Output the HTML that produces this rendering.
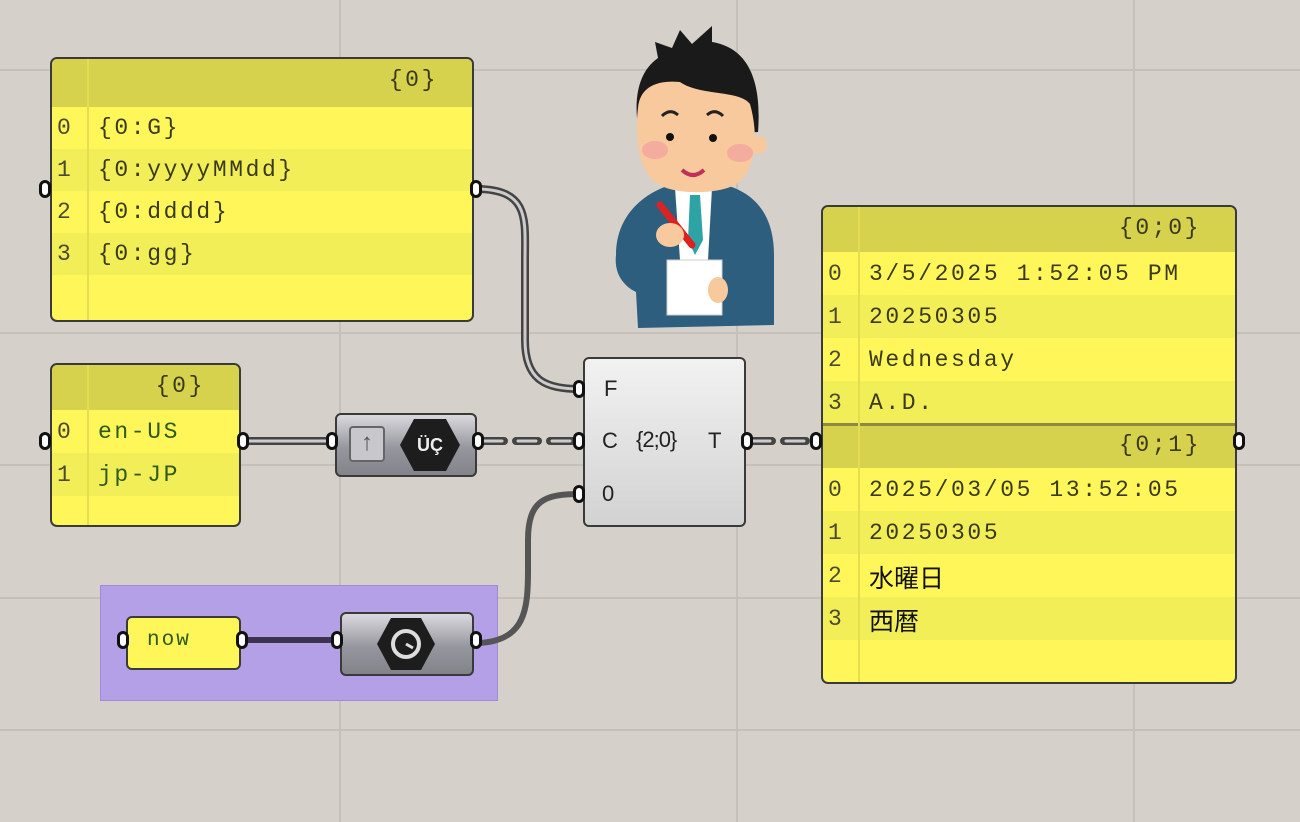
<!DOCTYPE html>
<html><head><meta charset="utf-8"><style>
*{margin:0;padding:0;box-sizing:border-box}
body{width:1300px;height:822px;background:#d5d1ca;position:relative;overflow:hidden;font-family:"Liberation Mono","Noto Sans CJK JP",monospace}
.a{position:absolute}
.hl{position:absolute;left:0;width:1300px;height:2px;background:#c5c1ba}
.vl{position:absolute;top:0;height:822px;width:2px;background:#c5c1ba}
.panel{position:absolute;border:2px solid #3a3a3a;border-radius:7px;background:#fff75a;overflow:hidden}
.row{position:absolute;left:0;right:0;font-size:23px;letter-spacing:2.6px;color:#3a3a1a;white-space:nowrap}
.row .i{position:absolute;left:5px;letter-spacing:0;color:#4a4a30}
.row .t{position:absolute;left:46px}
.hdr{background:#d6d24e}
.alt{background:#f2ee58}
.col{position:absolute;top:0;bottom:0;width:2px;background:#e2de50}
.port{position:absolute;width:12px;height:18px;border:3px solid #111;background:#fff;border-radius:9px}
.comp{position:absolute;border:2px solid #3a3a3a;border-radius:6px;background:linear-gradient(#d9d9de,#96969e 55%,#83838a)}
</style></head><body>
<div class="hl" style="top:69px"></div>
<div class="hl" style="top:332px"></div>
<div class="hl" style="top:464px"></div>
<div class="hl" style="top:597px"></div>
<div class="hl" style="top:729px"></div>
<div class="vl" style="left:339px"></div>
<div class="vl" style="left:736px"></div>
<div class="vl" style="left:1133px"></div>

<div class="a" style="left:100px;top:585px;width:398px;height:116px;background:#b3a0e6;border:1px solid #a08ad6"></div>

<svg class="a" style="left:0;top:0" width="1300" height="822">
 <g fill="none" stroke-linecap="round">
  <path d="M478 189 C530 190,525 220,525 260 L525 340 C525 380,545 389,580 389" stroke="#444" stroke-width="8"/>
  <path d="M478 189 C530 190,525 220,525 260 L525 340 C525 380,545 389,580 389" stroke="#ccc" stroke-width="3"/>
  <path d="M244 441 L332 441" stroke="#444" stroke-width="8"/>
  <path d="M244 441 L332 441" stroke="#ccc" stroke-width="3"/>
  <path d="M482 441 L580 441" stroke="#444" stroke-width="8" stroke-dasharray="22 12"/>
  <path d="M482 441 L580 441" stroke="#ccc" stroke-width="3" stroke-dasharray="18 16" stroke-dashoffset="-2"/>
  <path d="M750 441 L818 441" stroke="#444" stroke-width="8" stroke-dasharray="22 12"/>
  <path d="M750 441 L818 441" stroke="#ccc" stroke-width="3" stroke-dasharray="18 16" stroke-dashoffset="-2"/>
  <path d="M480 643 C525 640,528 610,528 570 L528 540 C528 500,545 494,580 494" stroke="#555" stroke-width="6"/>
  <path d="M245 640 L337 640" stroke="#3d3550" stroke-width="6"/>
 </g>
</svg>

<div class="panel" style="left:50px;top:57px;width:424px;height:265px">
 <div class="row hdr" style="top:0;height:48px"><span class="a" style="right:34px;top:8px">{0}</span></div>
 <div class="row" style="top:48px;height:42px"><span class="i" style="top:8px">0</span><span class="t" style="top:8px">{0:G}</span></div>
 <div class="row alt" style="top:90px;height:42px"><span class="i" style="top:8px">1</span><span class="t" style="top:8px">{0:yyyyMMdd}</span></div>
 <div class="row" style="top:132px;height:42px"><span class="i" style="top:8px">2</span><span class="t" style="top:8px">{0:dddd}</span></div>
 <div class="row alt" style="top:174px;height:42px"><span class="i" style="top:8px">3</span><span class="t" style="top:8px">{0:gg}</span></div>
 <div class="col" style="left:35px"></div>
</div>
<div class="port" style="left:39px;top:180px"></div>
<div class="port" style="left:470px;top:180px"></div>

<div class="panel" style="left:50px;top:363px;width:191px;height:164px">
 <div class="row hdr" style="top:0;height:45px"><span class="a" style="right:34px;top:8px">{0}</span></div>
 <div class="row" style="top:45px;height:43px;color:#2f5a1a"><span class="i" style="top:9px">0</span><span class="t" style="top:9px">en-US</span></div>
 <div class="row alt" style="top:88px;height:43px;color:#2f5a1a"><span class="i" style="top:9px">1</span><span class="t" style="top:9px">jp-JP</span></div>
 <div class="col" style="left:35px"></div>
</div>
<div class="port" style="left:39px;top:432px"></div>
<div class="port" style="left:237px;top:432px"></div>

<div class="comp" style="left:335px;top:413px;width:142px;height:64px"></div>
<div class="a" style="left:349px;top:426px;width:36px;height:36px;border:2px solid #666;border-radius:4px;background:#c8c8cc;text-align:center;font:bold 24px 'Liberation Sans',sans-serif;color:#555;line-height:30px">↑</div>
<svg class="a" style="left:398px;top:415px" width="64" height="60"><polygon points="16,4 48,4 62,30 48,56 16,56 2,30" fill="#1d1d1d"/><text x="32" y="36" font-family="Liberation Sans" font-weight="bold" font-size="18" fill="#eee" text-anchor="middle">ÜÇ</text></svg>
<div class="port" style="left:326px;top:432px"></div>
<div class="port" style="left:472px;top:432px"></div>

<div class="a" style="left:583px;top:357px;width:163px;height:170px;border:2px solid #3a3a3a;border-radius:6px;background:linear-gradient(#f2f2f2,#d2d2d2)"></div>
<div class="a" style="left:604px;top:376px;font:22px 'Liberation Sans',sans-serif;color:#222">F</div>
<div class="a" style="left:602px;top:428px;font:22px 'Liberation Sans',sans-serif;color:#222">C</div>
<div class="a" style="left:602px;top:481px;font:22px 'Liberation Sans',sans-serif;color:#222">0</div>
<div class="a" style="left:708px;top:428px;font:22px 'Liberation Sans',sans-serif;color:#222">T</div>
<div class="a" style="left:636px;top:427px;font:22px 'Liberation Sans',sans-serif;color:#222;letter-spacing:-1px">{2;0}</div>
<div class="port" style="left:573px;top:380px"></div>
<div class="port" style="left:573px;top:432px"></div>
<div class="port" style="left:573px;top:485px"></div>
<div class="port" style="left:741px;top:432px"></div>

<div class="panel" style="left:821px;top:205px;width:416px;height:479px">
 <div class="row hdr" style="top:0;height:45px"><span class="a" style="right:34px;top:8px">{0;0}</span></div>
 <div class="row" style="top:45px;height:43px"><span class="i" style="top:9px">0</span><span class="t" style="top:9px">3/5/2025 1:52:05 PM</span></div>
 <div class="row alt" style="top:88px;height:43px"><span class="i" style="top:9px">1</span><span class="t" style="top:9px">20250305</span></div>
 <div class="row" style="top:131px;height:43px"><span class="i" style="top:9px">2</span><span class="t" style="top:9px">Wednesday</span></div>
 <div class="row alt" style="top:174px;height:42px"><span class="i" style="top:9px">3</span><span class="t" style="top:9px">A.D.</span></div>
 <div class="a" style="left:0;right:0;top:216px;height:3px;background:#8c8a40"></div>
 <div class="row hdr" style="top:219px;height:42px"><span class="a" style="right:34px;top:6px">{0;1}</span></div>
 <div class="row" style="top:261px;height:43px"><span class="i" style="top:9px">0</span><span class="t" style="top:9px">2025/03/05 13:52:05</span></div>
 <div class="row alt" style="top:304px;height:43px"><span class="i" style="top:9px">1</span><span class="t" style="top:9px">20250305</span></div>
 <div class="row" style="top:347px;height:43px"><span class="i" style="top:9px">2</span><span class="t" style="top:5px;color:#111;font-family:'Noto Sans CJK JP',sans-serif;font-size:25px;letter-spacing:0">水曜日</span></div>
 <div class="row alt" style="top:390px;height:43px"><span class="i" style="top:9px">3</span><span class="t" style="top:5px;color:#111;font-family:'Noto Sans CJK JP',sans-serif;font-size:25px;letter-spacing:0">西暦</span></div>
 <div class="col" style="left:35px"></div>
</div>
<div class="port" style="left:810px;top:432px"></div>
<div class="port" style="left:1233px;top:432px"></div>

<div class="a" style="left:126px;top:616px;width:115px;height:54px;border:2px solid #3a3a3a;border-radius:6px;background:#fff75a;font-size:21px;letter-spacing:2px;color:#2f5a1a;padding:11px 0 0 19px">now</div>
<div class="port" style="left:117px;top:631px"></div>
<div class="port" style="left:236px;top:631px"></div>

<div class="comp" style="left:340px;top:612px;width:134px;height:64px"></div>
<svg class="a" style="left:375px;top:614px" width="62" height="60"><polygon points="16,4 46,4 60,30 46,56 16,56 2,30" fill="#1d1d1d"/><circle cx="31" cy="30" r="13" fill="none" stroke="#ddd" stroke-width="4"/><path d="M31 30 L38 34" stroke="#ddd" stroke-width="3"/></svg>
<div class="port" style="left:331px;top:631px"></div>
<div class="port" style="left:470px;top:631px"></div>

<svg class="a" style="left:600px;top:20px" width="190" height="320">
 <path d="M16 235 C16 192,48 172,70 165 L125 165 C152 172,174 192,174 235 L174 305 L38 308 L36 272 C22 265,14 252,16 235Z" fill="#2e5e7e"/>
 <path d="M75 168 L112 168 L108 240 L80 240Z" fill="#fff"/>
 <path d="M90 175 L100 175 L103 220 L95 235 L88 220Z" fill="#2ea3a6"/>
 <path d="M40 118 C32 80,38 52,58 38 L55 22 L72 28 L80 10 L92 24 L112 6 L112 22 C148 28,162 60,158 112Z" fill="#1a1a1a"/>
 <path d="M38 88 C40 66,58 60,80 62 C100 76,140 70,150 84 C158 112,158 150,135 165 C115 175,70 175,55 162 C40 150,34 120,38 88Z" fill="#f7c99c"/>
 <circle cx="158" cy="125" r="9" fill="#f7c99c"/>
 <ellipse cx="55" cy="130" rx="13" ry="9" fill="#f2a0a0" opacity=".7"/>
 <ellipse cx="140" cy="133" rx="13" ry="9" fill="#f2a0a0" opacity=".7"/>
 <circle cx="70" cy="117" r="4" fill="#111"/><circle cx="113" cy="118" r="4" fill="#111"/>
 <path d="M62 96 Q70 88,78 95 M107 95 Q115 88,123 96" stroke="#222" stroke-width="3" fill="none"/>
 <path d="M82 150 Q93 160,104 150" stroke="#c0305a" stroke-width="4" fill="none"/>
 <rect x="67" y="240" width="55" height="55" fill="#fff" stroke="#ccc"/>
 <path d="M60 185 L92 225" stroke="#d22" stroke-width="7" stroke-linecap="round"/>
 <ellipse cx="70" cy="215" rx="14" ry="12" fill="#f7c99c"/>
 <ellipse cx="118" cy="270" rx="10" ry="13" fill="#f7c99c"/>
</svg>
</body></html>
